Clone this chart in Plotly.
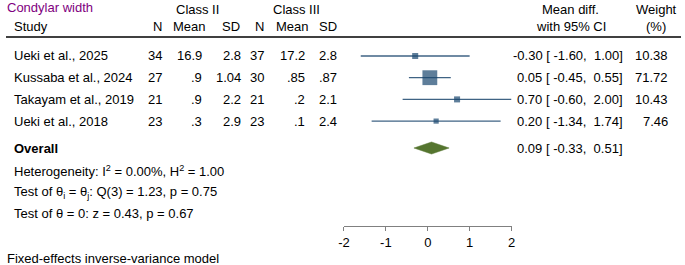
import plotly.graph_objects as go

# ---------------- data ----------------
studies = ["Ueki et al., 2025", "Kussaba et al., 2024", "Takayam et al., 2019", "Ueki et al., 2018"]
n2 = ["34", "27", "21", "23"]
mean2 = ["16.9", ".9", ".9", ".3"]
sd2 = ["2.8", "1.04", "2.2", "2.9"]
n3 = ["37", "30", "21", "23"]
mean3 = ["17.2", ".85", ".2", ".1"]
sd3 = ["2.8", ".87", "2.1", "2.4"]
md = [-0.30, 0.05, 0.70, 0.20]
ci_lo = [-1.60, -0.45, -0.60, -1.34]
ci_hi = [1.00, 0.55, 2.00, 1.74]
weights = [10.38, 71.72, 10.43, 7.46]
overall = 0.09
overall_lo = -0.33
overall_hi = 0.51
tick_vals = [-2, -1, 0, 1, 2]
tick_text = ["-2", "-1", "0", "1", "2"]
title_text = "Condylar width"
stats_lines = [
    "Heterogeneity: I<sup>2</sup> = 0.00%, H<sup>2</sup> = 1.00",
    "Test of θ<sub>i</sub> = θ<sub>j</sub>: Q(3) = 1.23, p = 0.75",
    "Test of θ = 0: z = 0.43, p = 0.67",
]
footer = "Fixed-effects inverse-variance model"

# ---------------- layout constants ----------------
W, H = 685, 265
AX_Y = 226          # pixel y of x-axis line
ROW0, ROWSTEP = 56, 21.7
OVERALL_Y = 148
STAT0, STATSTEP = 171, 21
FONT = "Liberation Sans, Arial, sans-serif"
FS = 13
NAVY = "#1a476f"
CI_COL = "#3f6384"
GREEN = "#55752f"
NB = "\u00a0"

row_y = [ROW0 + i * ROWSTEP for i in range(len(studies))]


def px(x):
    return x / W


def py(y):
    return (H - y) / H


fig = go.Figure()

# CI lines
xs, ys = [], []
for lo, hi, y in zip(ci_lo, ci_hi, row_y):
    xs += [lo, hi, None]
    ys += [y, y, None]
fig.add_trace(go.Scatter(x=xs, y=ys, mode="lines",
                         line=dict(color=CI_COL, width=1.3),
                         hoverinfo="skip", cliponaxis=False))

# weight squares
sizes = [1.68 * (w ** 0.5) + 0.6 for w in weights]
fig.add_trace(go.Scatter(x=md, y=row_y, mode="markers",
                         marker=dict(symbol="square", size=sizes, color=NAVY,
                                     line=dict(width=0)),
                         cliponaxis=False))

# overall diamond
DH = 6
fig.add_trace(go.Scatter(x=[overall_lo, overall, overall_hi, overall, overall_lo],
                         y=[OVERALL_Y, OVERALL_Y - DH, OVERALL_Y, OVERALL_Y + DH, OVERALL_Y],
                         mode="lines", fill="toself", fillcolor=GREEN,
                         line=dict(color=GREEN, width=0.5), cliponaxis=False))

ann = []


def txt(x, y, s, anchor="left", color="black", size=FS, bold=False):
    if bold:
        s = "<b>" + s + "</b>"
    ann.append(dict(x=px(x), y=py(y), xref="paper", yref="paper", text=s,
                    showarrow=False, xanchor=anchor, yanchor="middle",
                    borderpad=0,
                    font=dict(family=FONT, size=size, color=color)))


# headers
txt(0, 8, title_text, color="#800080")
txt(194, 10, "Class II", "center")
txt(295, 10, "Class III", "center")
txt(7, 27, "Study")
txt(159, 27, "N", "right")
txt(204, 27, "Mean", "right")
txt(238, 27, "SD", "right")
txt(263, 27, "N", "right")
txt(308, 27, "Mean", "right")
txt(337, 27, "SD", "right")
txt(573, 10, "Mean diff.", "center")
txt(573, 27, "with 95% CI", "center")
txt(660, 10, "Weight", "center")
txt(660, 27, "(%)", "center")


def fmt(v):
    s = f"{v:.2f}"
    return s if v < 0 else NB + s


def ci_text(est, lo, hi):
    return f"{est:.2f} [{NB}{fmt(lo)},{NB}{fmt(hi)}]"


# rows
for i, y in enumerate(row_y):
    txt(7, y, studies[i])
    txt(159, y, n2[i], "right")
    txt(200, y, mean2[i], "right")
    txt(239, y, sd2[i], "right")
    txt(263, y, n3[i], "right")
    txt(304, y, mean3[i], "right")
    txt(337, y, sd3[i], "right")
    txt(627, y, ci_text(md[i], ci_lo[i], ci_hi[i]), "right")
    txt(673, y, f"{weights[i]:.2f}", "right")

txt(7, OVERALL_Y, "Overall", bold=True)
txt(627, OVERALL_Y, ci_text(overall, overall_lo, overall_hi), "right")

for i, s in enumerate(stats_lines):
    txt(7, STAT0 + i * STATSTEP, s)
txt(0, 258, footer)

fig.update_layout(
    width=W, height=H,
    margin=dict(l=0, r=0, t=0, b=0),
    paper_bgcolor="white", plot_bgcolor="white",
    showlegend=False,
    annotations=ann,
    shapes=[dict(type="line", xref="paper", yref="paper", x0=0, x1=1,
                 y0=py(37), y1=py(37), line=dict(color="black", width=1.5))],
    xaxis=dict(domain=[px(343), px(513)], range=[-2, 2], showgrid=False,
               zeroline=False, showline=True, linecolor="#808080", linewidth=1.2,
               ticks="outside", ticklen=4, tickcolor="#808080", tickwidth=1.2,
               tickvals=tick_vals, ticktext=tick_text,
               tickfont=dict(family=FONT, size=FS, color="black"), fixedrange=True),
    yaxis=dict(domain=[py(AX_Y), 1], range=[AX_Y, 0], visible=False,
               showgrid=False, zeroline=False, fixedrange=True),
)

fig.write_html(
    "out.html",
    config={"displayModeBar": False},
    post_script="document.body.style.margin='0';document.body.style.overflow='hidden';",
)
